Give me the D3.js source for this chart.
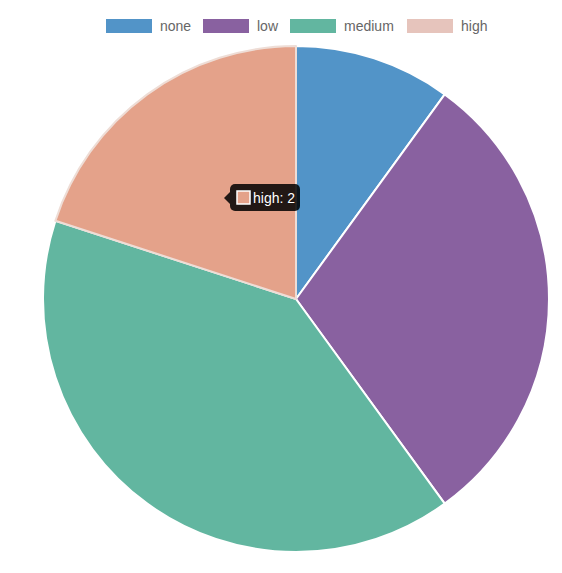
<!DOCTYPE html>
<html>
<head>
    <script src="https://d3js.org/d3.v7.min.js"></script>
    <style>
        body { margin: 0; background: #fff; }
        .legend text {
            font-size: 14px;
            fill: #666;
            font-family: 'Liberation Sans', Arial, sans-serif;
        }
        .tip text {
            font-size: 14px;
            fill: #fff;
            font-family: 'Liberation Sans', Arial, sans-serif;
        }
    </style>
</head>
<body>
<svg id="pie" width="562" height="573"></svg>
<script>
    const labels = ["none", "low", "medium", "high"];
    const values = [1, 3, 4, 2];
    const colors = ["#5294c8", "#8961a0", "#62b6a0", "#e4a28a"];
    const legendColors = ["#5294c8", "#8961a0", "#62b6a0", "#e6c4bc"];
    const hovered = 3;

    const svg = d3.select("#pie");
    const cx = 296, cy = 299, radius = 253;

    const data = labels.map((l, i) => ({ label: l, value: values[i], i: i }));

    const pie = d3.pie().value(d => d.value).sort(null);
    const arc = d3.arc().innerRadius(0).outerRadius(radius);

    const g = svg.append("g").attr("transform", `translate(${cx},${cy})`);
    g.selectAll("path")
        .data(pie(data))
        .enter()
        .append("path")
        .attr("d", arc)
        .attr("fill", d => colors[d.data.i])
        .attr("stroke", d => d.data.i === hovered ? "#eeddd6" : "#fff")
        .attr("stroke-width", 2)
        .attr("stroke-linejoin", "round");

    // bring hovered slice to front so its border shows
    g.selectAll("path").filter(d => d.data.i === hovered).raise();

    // legend
    const legendX = d3.scaleOrdinal().domain(labels).range([106, 203, 290, 407]);
    const legend = svg.append("g").attr("class", "legend");
    const items = legend.selectAll("g")
        .data(data)
        .enter()
        .append("g")
        .attr("transform", d => `translate(${legendX(d.label)},19)`);
    items.append("rect")
        .attr("width", 46)
        .attr("height", 14)
        .attr("fill", d => legendColors[d.i]);
    items.append("text")
        .attr("x", 54)
        .attr("y", 12)
        .text(d => d.label);

    // tooltip for the hovered slice
    const tip = svg.append("g").attr("class", "tip").attr("transform", "translate(230,184)");
    tip.append("path")
        .attr("d", "M0,8 L-6,14 L0,20 Z")
        .attr("fill", "rgba(0,0,0,0.85)");
    tip.append("rect")
        .attr("width", 70)
        .attr("height", 27)
        .attr("rx", 5)
        .attr("fill", "rgba(0,0,0,0.85)");
    tip.append("rect")
        .attr("x", 7)
        .attr("y", 7)
        .attr("width", 13)
        .attr("height", 13)
        .attr("fill", colors[hovered])
        .attr("stroke", "#fff")
        .attr("stroke-width", 1.5);
    tip.append("text")
        .attr("x", 23)
        .attr("y", 19)
        .text(`${labels[hovered]}: ${values[hovered]}`);
</script>
</body>
</html>
